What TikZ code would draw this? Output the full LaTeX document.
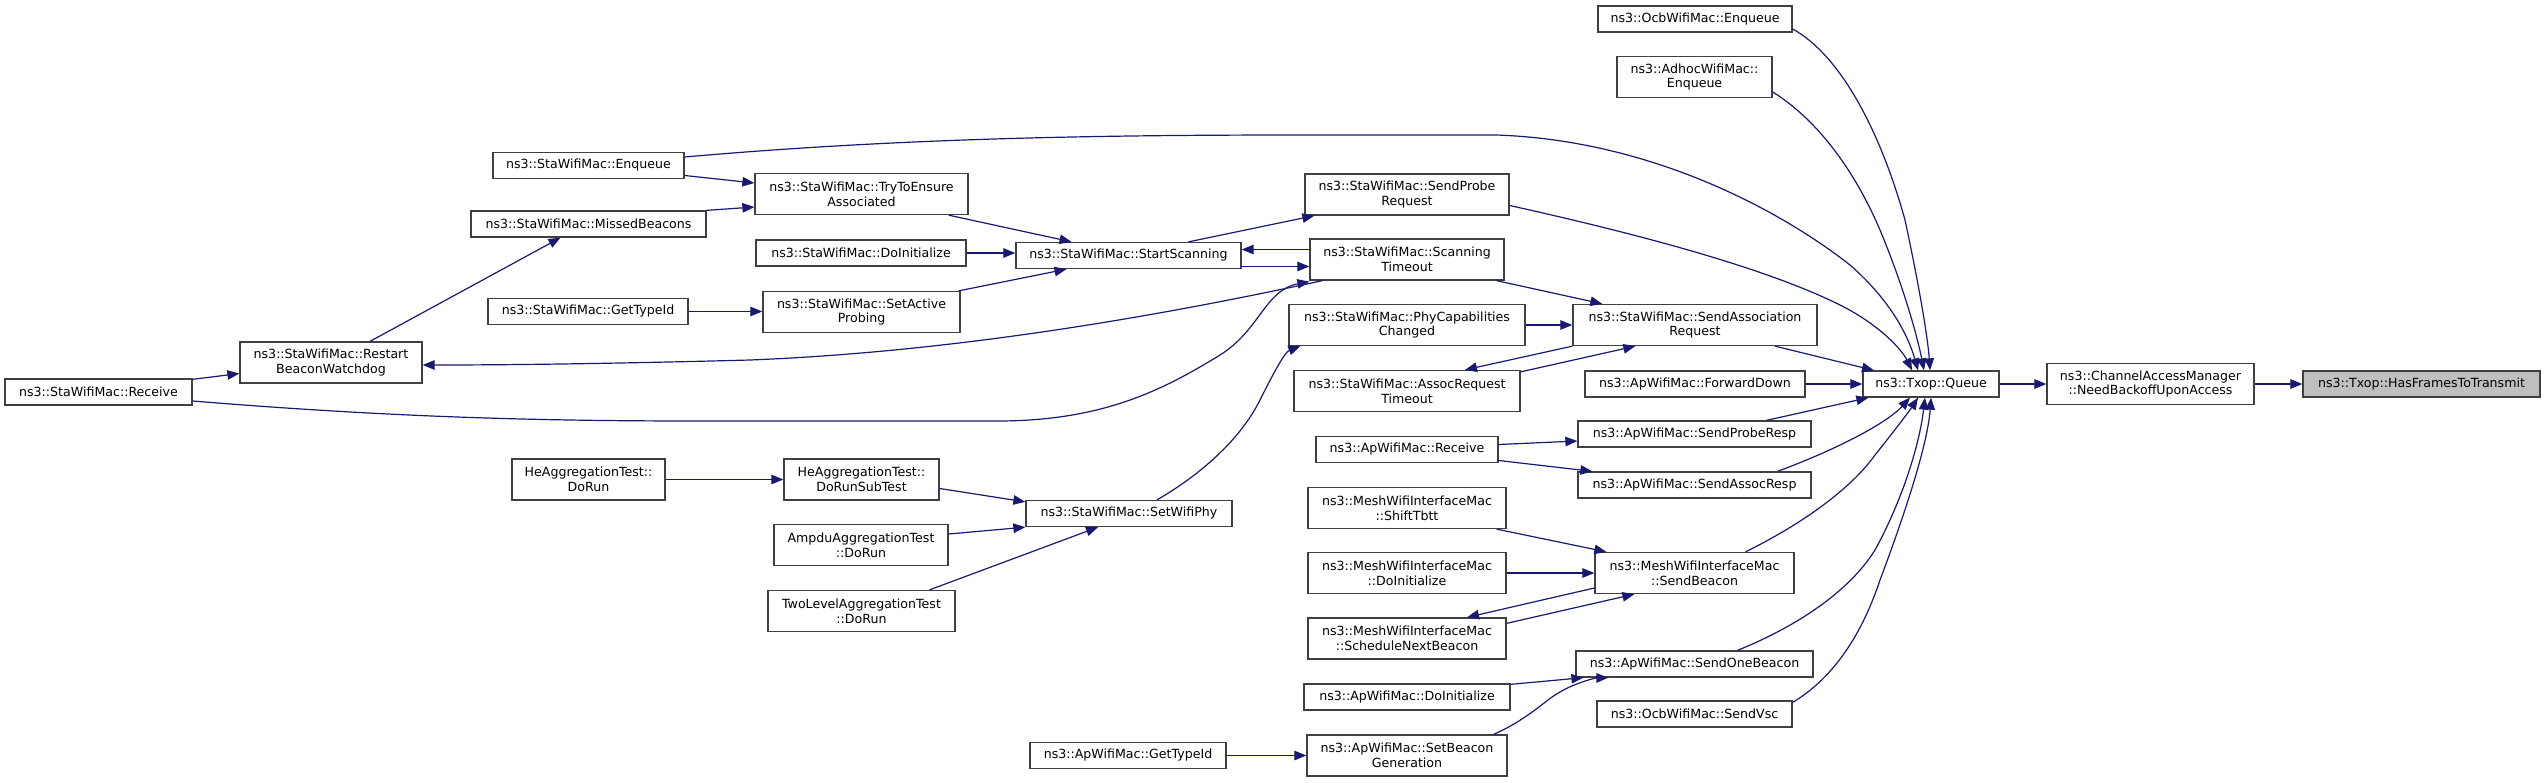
\documentclass[tikz,border=0pt]{standalone}
\usepackage{fontspec}
\setmainfont{DejaVu Sans}
\usetikzlibrary{arrows.meta,calc}
\definecolor{edgec}{HTML}{191970}
\definecolor{boxc}{HTML}{404040}
\definecolor{hl}{HTML}{BFBFBF}
\begin{document}
\begin{tikzpicture}[x=1pt,y=-1pt,
  box/.style={draw=boxc, line width=1.3pt, fill=white, inner sep=0pt, align=center,
    font=\fontsize{12.6}{14.7}\selectfont, minimum height=26pt},
  two/.style={minimum height=41pt},
  edge/.style={draw=edgec, line width=1.2pt, -{Triangle[length=12pt,width=9.5pt]}}]
\useasboundingbox[fill=white] (0,0) rectangle (2545,782);

% rank 0-2
\node[box, minimum width=187pt] (recv) at (98.5,392) {ns3::StaWifiMac::Receive};
\node[box, two, minimum width=182pt] (restart) at (331,362.5) {ns3::StaWifiMac::Restart\\BeaconWatchdog};
\node[box, minimum width=191pt] (staenq) at (588.5,165.5) {ns3::StaWifiMac::Enqueue};
\node[box, minimum width=235pt] (missed) at (588.5,224) {ns3::StaWifiMac::MissedBeacons};
\node[box, minimum width=200pt] (stagettype) at (588,311.5) {ns3::StaWifiMac::GetTypeId};
\node[box, two, minimum width=153pt] (hedorun) at (588.5,479.5) {HeAggregationTest::\\DoRun};
% rank 3
\node[box, two, minimum width=213pt] (tryens) at (861.5,194) {ns3::StaWifiMac::TryToEnsure\\Associated};
\node[box, minimum width=210pt] (stainit) at (861,253) {ns3::StaWifiMac::DoInitialize};
\node[box, two, minimum width=197pt] (setactive) at (861.5,312) {ns3::StaWifiMac::SetActive\\Probing};
\node[box, two, minimum width=155pt] (subtest) at (861.5,479.5) {HeAggregationTest::\\DoRunSubTest};
\node[box, two, minimum width=174pt] (ampdu) at (861,545) {AmpduAggregationTest\\::DoRun};
\node[box, two, minimum width=187pt] (twolevel) at (861.5,611) {TwoLevelAggregationTest\\::DoRun};
% rank 4
\node[box, minimum width=225pt] (startscan) at (1128.5,255.5) {ns3::StaWifiMac::StartScanning};
\node[box, minimum width=206pt] (setwifiphy) at (1129,513.5) {ns3::StaWifiMac::SetWifiPhy};
\node[box, minimum width=196pt] (apgettype) at (1128,755.5) {ns3::ApWifiMac::GetTypeId};
% rank 5
\node[box, two, minimum width=204pt] (sendprobe) at (1407,194.5) {ns3::StaWifiMac::SendProbe\\Request};
\node[box, two, minimum width=194pt] (scantimeout) at (1407,259.5) {ns3::StaWifiMac::Scanning\\Timeout};
\node[box, two, minimum width=236pt] (phycap) at (1407,325) {ns3::StaWifiMac::PhyCapabilities\\Changed};
\node[box, two, minimum width=226pt] (assoctimeout) at (1407,391) {ns3::StaWifiMac::AssocRequest\\Timeout};
\node[box, minimum width=182pt] (aprecv) at (1407,449.5) {ns3::ApWifiMac::Receive};
\node[box, two, minimum width=198pt] (shifttbtt) at (1407,508) {ns3::MeshWifiInterfaceMac\\::ShiftTbtt};
\node[box, two, minimum width=198pt] (meshinit) at (1407,573) {ns3::MeshWifiInterfaceMac\\::DoInitialize};
\node[box, two, minimum width=198pt] (schednext) at (1407,638.5) {ns3::MeshWifiInterfaceMac\\::ScheduleNextBeacon};
\node[box, minimum width=206pt] (apinit) at (1407,697) {ns3::ApWifiMac::DoInitialize};
\node[box, two, minimum width=200pt] (setbeacon) at (1407,755.5) {ns3::ApWifiMac::SetBeacon\\Generation};
% rank 6
\node[box, minimum width=194pt] (ocbenq) at (1695,19) {ns3::OcbWifiMac::Enqueue};
\node[box, two, minimum width=155pt] (adhocenq) at (1694.5,77) {ns3::AdhocWifiMac::\\Enqueue};
\node[box, two, minimum width=244pt] (sendassoc) at (1695,325) {ns3::StaWifiMac::SendAssociation\\Request};
\node[box, minimum width=220pt] (fwddown) at (1695,384) {ns3::ApWifiMac::ForwardDown};
\node[box, minimum width=233pt] (probresp) at (1694.5,434) {ns3::ApWifiMac::SendProbeResp};
\node[box, minimum width=233pt] (assocresp) at (1694.5,485) {ns3::ApWifiMac::SendAssocResp};
\node[box, two, minimum width=199pt] (sendbeacon) at (1694.5,573) {ns3::MeshWifiInterfaceMac\\::SendBeacon};
\node[box, minimum width=237pt] (onebeacon) at (1694.5,664) {ns3::ApWifiMac::SendOneBeacon};
\node[box, minimum width=195pt] (sendvsc) at (1694.5,714) {ns3::OcbWifiMac::SendVsc};
% rank 7-9
\node[box, minimum width=136pt] (queue) at (1931,384) {ns3::Txop::Queue};
\node[box, two, minimum width=207pt] (cam) at (2150.5,384) {ns3::ChannelAccessManager\\::NeedBackoffUponAccess};
\node[box, minimum width=237pt, fill=hl] (hasframes) at (2421.5,384) {ns3::Txop::HasFramesToTransmit};

% edges
\draw[edge] ($(recv.north east)+(0,1)$) -- ($(restart.west)+(0,11)$);
\draw[edge] ($(recv.east)+(0,9)$) .. controls (400,418) and (550,421) .. (700,421) -- (997,421)
  .. controls (1100,421) and (1160,392) .. (1220,355) .. controls (1260,330) and (1265,290) .. ($(scantimeout.south west)+(0,1)$);
\draw[edge] ($(restart.north)+(39,0)$) -- ($(missed.south)+(-28,0)$);
\draw[edge] ($(scantimeout.south west)+(13,0)$) .. controls (1150,318) and (950,352) .. (750,360)
  .. controls (600,364) and (500,365) .. ($(restart.east)+(0,2.5)$);
\draw[edge] (missed.north east) -- ($(tryens.west)+(0,13)$);
\draw[edge] ($(staenq.east)+(0,10)$) -- ($(tryens.west)+(0,-11)$);
\draw[edge] ($(staenq.east)+(0,-8.5)$) .. controls (900,138) and (1100,135) .. (1300,135) -- (1496,135)
  .. controls (1650,140) and (1780,210) .. (1850,265) .. controls (1890,300) and (1908,335) .. ($(queue.north)+(-13,0)$);
\draw[edge] ($(tryens.south east)+(-20,0)$) -- ($(startscan.north)+(-57,0)$);
\draw[edge] (stainit.east) -- (stainit.east -| startscan.west);
\draw[edge] ($(setactive.north east)+(-2,0)$) -- ($(startscan.south)+(-62,0)$);
\draw[edge] (stagettype.east) -- (stagettype.east -| setactive.west);
\draw[edge] ($(startscan.north)+(60,0)$) -- ($(sendprobe.south west)+(10,0)$);
\draw[edge] ($(startscan.east)+(0,11)$) -- ($(scantimeout.west)+(0,7)$);
\draw[edge] ($(scantimeout.west)+(0,-10)$) -- ($(startscan.east)+(0,-6)$);
\draw[edge] ($(scantimeout.south east)+(-8,0)$) -- ($(sendassoc.north west)+(30,0)$);
\draw[edge] (phycap.east) -- (sendassoc.west);
\draw[edge] (sendassoc.south west) -- ($(assoctimeout.north)+(58,0)$);
\draw[edge] ($(assoctimeout.north east)+(0,2)$) -- ($(sendassoc.south west)+(63,0)$);
\draw[edge] ($(sendprobe.east)+(0,11)$) .. controls (1620,230) and (1760,265) .. (1840,305)
  .. controls (1880,325) and (1902,350) .. ($(queue.north)+(-19,0)$);
\draw[edge] ($(sendassoc.south)+(80,0)$) -- ($(queue.north)+(-57,0)$);
\draw[edge] (fwddown.east) -- (queue.west);
\draw[edge] (queue.east) -- (cam.west);
\draw[edge] (cam.east) -- (hasframes.west);
\draw[edge] ($(ocbenq.east)+(0,10)$) .. controls (1840,55) and (1880,130) .. (1905,220)
  .. controls (1920,290) and (1928,340) .. ($(queue.north)+(-1,0)$);
\draw[edge] ($(adhocenq.east)+(0,15)$) .. controls (1810,115) and (1850,160) .. (1880,230)
  .. controls (1905,290) and (1918,340) .. ($(queue.north)+(-7,0)$);
\draw[edge] ($(setwifiphy.north)+(28,0)$) .. controls (1200,475) and (1240,440) .. (1260,400)
  .. controls (1275,370) and (1285,352) .. ($(phycap.south west)+(12,0)$);
\draw[edge] ($(subtest.east)+(0,9)$) -- ($(setwifiphy.north west)+(0,2)$);
\draw[edge] (hedorun.east) -- (subtest.west);
\draw[edge] ($(ampdu.east)+(0,-11)$) -- (setwifiphy.south west);
\draw[edge] ($(twolevel.north)+(68,0)$) -- ($(setwifiphy.south)+(-31,0)$);
\draw[edge] ($(aprecv.east)+(0,-5)$) -- ($(probresp.west)+(0,7)$);
\draw[edge] ($(aprecv.east)+(0,11)$) -- ($(assocresp.north west)+(15,0)$);
\draw[edge] ($(probresp.north)+(72,0)$) -- ($(queue.south west)+(6,0)$);
\draw[edge] ($(assocresp.north)+(83,0)$) .. controls (1830,452) and (1885,425) .. ($(queue.south)+(-21,0)$);
\draw[edge] ($(sendbeacon.north)+(51,0)$) .. controls (1800,525) and (1850,490) .. (1875,455)
  .. controls (1895,430) and (1910,410) .. ($(queue.south)+(-13,0)$);
\draw[edge] ($(onebeacon.north)+(43,0)$) .. controls (1800,625) and (1850,590) .. (1875,550)
  .. controls (1905,495) and (1920,440) .. ($(queue.south)+(-6,0)$);
\draw[edge] ($(sendvsc.north east)+(0,2)$) .. controls (1830,680) and (1860,640) .. (1880,580)
  .. controls (1910,500) and (1928,440) .. ($(queue.south)+(0,0)$);
\draw[edge] ($(shifttbtt.south east)+(-10,0)$) -- ($(sendbeacon.north west)+(12,0)$);
\draw[edge] (meshinit.east) -- (sendbeacon.west);
\draw[edge] ($(sendbeacon.west)+(0,15)$) -- ($(schednext.north)+(60,0)$);
\draw[edge] ($(schednext.north east)+(0,6)$) -- ($(sendbeacon.south west)+(40,0)$);
\draw[edge] ($(apinit.north east)+(0,1)$) -- ($(onebeacon.south west)+(8,0)$);
\draw[edge] ($(setbeacon.north east)+(-14,0)$) .. controls (1530,718) and (1545,700) .. (1560,692)
  .. controls (1575,683) and (1595,678) .. ($(onebeacon.south west)+(33,0)$);
\draw[edge] (apgettype.east) -- (setbeacon.west);
\end{tikzpicture}
\end{document}
